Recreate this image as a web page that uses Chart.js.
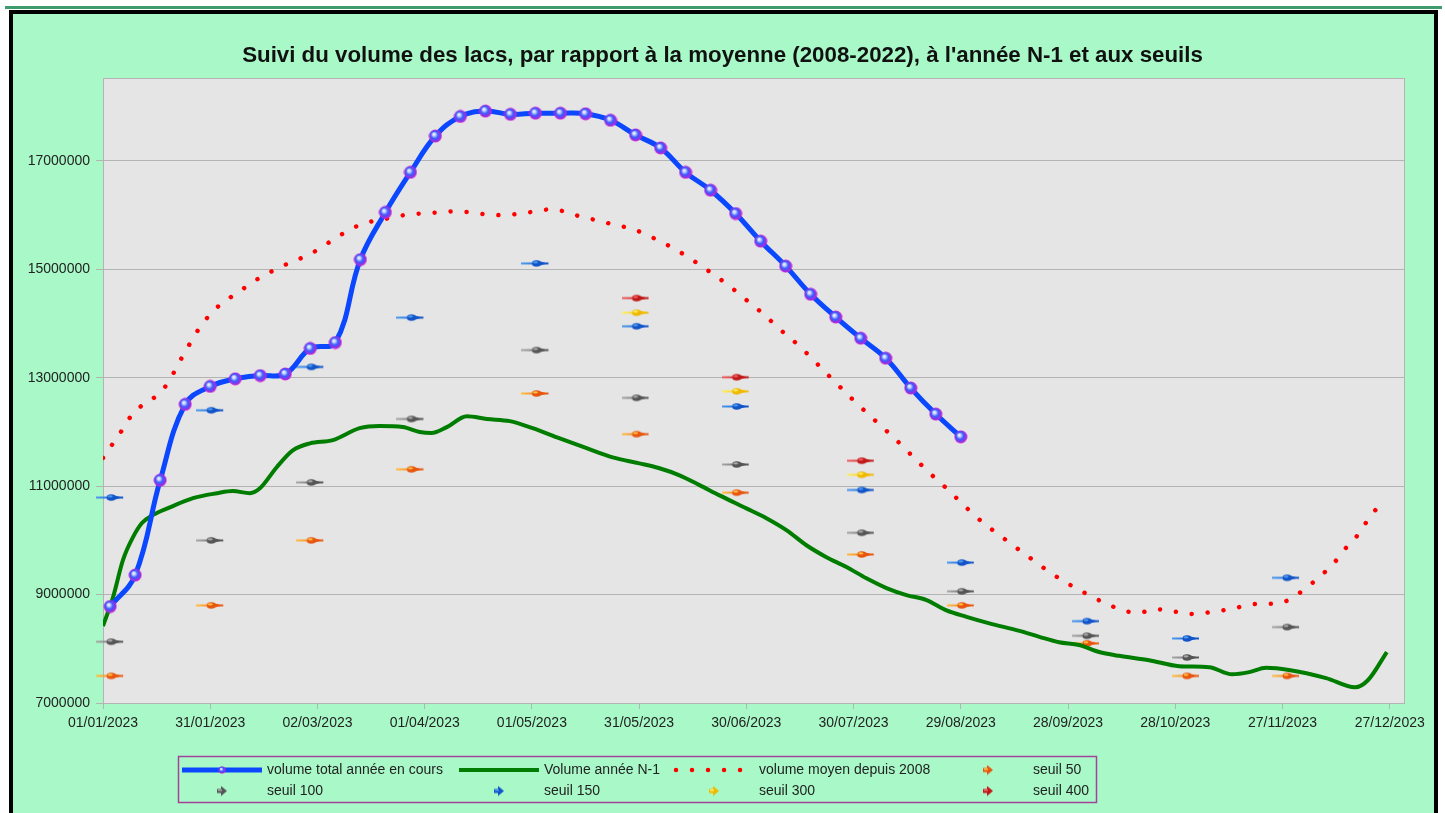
<!DOCTYPE html>
<html>
<head>
<meta charset="utf-8">
<title>Suivi du volume des lacs</title>
<script src="https://cdn.jsdelivr.net/npm/chart.js@4.4.0/dist/chart.umd.min.js"></script>
<style>
  body { margin: 0; background: #fff; width: 1445px; height: 813px; overflow: hidden; position: relative; }
  #topline { position: absolute; left: 5px; top: 6px; width: 1437px; height: 3px; background: #3f9d6d; }
  #frame { position: absolute; left: 9px; top: 10px; width: 1421px; height: 820px; border: 4px solid #000; border-bottom: none; background: #a9f9c8; }
  #chart { position: absolute; left: 0; top: 0; }
</style>
</head>
<body>
<div id="topline"></div>
<div id="frame"></div>
<canvas id="chart" width="1445" height="813"></canvas>
<script>
const TITLE = "Suivi du volume des lacs, par rapport à la moyenne (2008-2022), à l'année N-1 et aux seuils";

// axes
const xTickDays = [0, 30, 60, 90, 120, 150, 180, 210, 240, 270, 300, 330, 360];
const xTickLabels = ['01/01/2023', '31/01/2023', '02/03/2023', '01/04/2023', '01/05/2023', '31/05/2023',
  '30/06/2023', '30/07/2023', '29/08/2023', '28/09/2023', '28/10/2023', '27/11/2023', '27/12/2023'];
const yTickValues = [7000000, 9000000, 11000000, 13000000, 15000000, 17000000];

// volume total année en cours (relevés hebdo, jour de l'année)
const currentDays = [2, 9, 16, 23, 30, 37, 44, 51, 58, 65, 72, 79, 86, 93, 100, 107, 114, 121,
  128, 135, 142, 149, 156, 163, 170, 177, 184, 191, 198, 205, 212, 219, 226, 233, 240];
const currentVolumes = [8780000, 9360000, 11110000, 12510000, 12840000, 12980000, 13040000, 13070000,
  13540000, 13650000, 15180000, 16050000, 16790000, 17460000, 17820000, 17920000, 17860000, 17880000,
  17880000, 17870000, 17750000, 17480000, 17240000, 16790000, 16460000, 16030000, 15520000, 15060000,
  14540000, 14120000, 13730000, 13360000, 12810000, 12330000, 11910000];

// Volume année N-1
const previousDays = [0, 2.8, 5.6, 8.4, 10.9, 14, 18.7, 25.2, 31.9, 36.3, 41.1, 43.9, 48.6, 53.1, 57.9,
  64.3, 71.8, 77.4, 83.9, 88.6, 91.9, 96.2, 101.8, 107.4, 113.8, 120.2, 127.8, 135.3, 142.6, 150.1,
  155.7, 161.3, 166.9, 172.5, 180, 185.6, 191.2, 196.8, 202.4, 208, 213.6, 219.2, 224.8, 230.4, 236,
  241.6, 248, 256.4, 262, 267.5, 273.1, 278.7, 284.3, 292.7, 301.1, 309.5, 315.9, 320.7, 325.4, 331.8,
  342.2, 350.3, 353.9, 359.2];
const previousVolumes = [8420000, 8950000, 9640000, 10060000, 10320000, 10470000, 10610000, 10780000,
  10870000, 10910000, 10870000, 10960000, 11350000, 11660000, 11790000, 11850000, 12070000, 12110000,
  12090000, 12000000, 11980000, 12090000, 12290000, 12240000, 12200000, 12070000, 11880000, 11700000,
  11530000, 11420000, 11330000, 11200000, 11020000, 10830000, 10590000, 10410000, 10190000, 9910000,
  9690000, 9510000, 9300000, 9120000, 8990000, 8900000, 8710000, 8590000, 8470000, 8330000, 8220000,
  8120000, 8070000, 7940000, 7870000, 7790000, 7680000, 7660000, 7530000, 7570000, 7650000, 7610000,
  7460000, 7290000, 7420000, 7940000];

// volume moyen depuis 2008
const averageDays = [0, 2.8, 5.3, 7.8, 10.9, 14.8, 17.9, 20.1, 22.3, 24.5, 26.9, 29.6, 32.8, 36.5, 40.3,
  44, 48, 52.2, 56.3, 60.3, 64, 67.9, 71.9, 76.3, 80.7, 85.1, 89.5, 93.9, 98.4, 103.2, 107.6, 112.1,
  116.6, 121.1, 125.5, 130, 134.2, 138.7, 143.1, 147.3, 151.8, 155.7, 159.6, 167, 174.7, 178.3, 181.7,
  185.1, 188.4, 194.9, 203.2, 210.2, 217.7, 221.2, 224.4, 227.6, 230.8, 234.2, 237.4, 240.7, 244,
  254.6, 258.3, 262, 265.6, 269.5, 273.3, 277.3, 281.5, 285.7, 290.1, 294.4, 299, 303.5, 307.8, 312.3,
  316.7, 321.2, 325.7, 330.2, 334.1, 337.9, 341.1, 344.4, 347.2, 350.6, 353.2, 355.9, 358.7];
const averageVolumes = [11520000, 11790000, 12030000, 12290000, 12490000, 12660000, 12880000, 13130000,
  13400000, 13650000, 13910000, 14140000, 14350000, 14520000, 14690000, 14850000, 14990000, 15120000,
  15230000, 15370000, 15530000, 15690000, 15820000, 15900000, 15950000, 16010000, 16030000, 16050000,
  16070000, 16050000, 16010000, 16000000, 16030000, 16070000, 16110000, 16050000, 15960000, 15900000,
  15820000, 15760000, 15650000, 15520000, 15390000, 15080000, 14720000, 14530000, 14340000, 14160000,
  13950000, 13580000, 13030000, 12570000, 12110000, 11900000, 11690000, 11480000, 11270000, 11070000,
  10870000, 10660000, 10450000, 9910000, 9730000, 9550000, 9380000, 9220000, 9080000, 8940000,
  8810000, 8700000, 8670000, 8730000, 8700000, 8640000, 8660000, 8700000, 8750000, 8820000, 8830000,
  8860000, 9000000, 9190000, 9370000, 9580000, 9820000, 10060000, 10310000, 10550000, 10780000];

// seuils
const seuilDays = [2, 30, 58, 86, 121, 149, 177, 212, 240, 275, 303, 331];
const seuil50 = [7500000, 8800000, 10000000, 11310000, 12710000, 11960000, 10880000, 9740000, 8800000, 8100000, 7500000, 7500000];
const seuil100 = [8130000, 10000000, 11070000, 12240000, 13510000, 12630000, 11400000, 10140000, 9060000, 8240000, 7840000, 8400000];
const seuil150 = [10790000, 12400000, 13200000, 14110000, 15110000, 13950000, 12470000, 10930000, 9590000, 8510000, 8190000, 9310000];
const seuilHighDays = [149, 177, 212];
const seuil300 = [14200000, 12750000, 11210000];
const seuil400 = [14470000, 13010000, 11470000];

const FONT = '"Liberation Sans", Arial, sans-serif';

function pairs(xs, ys) {
  return xs.map((x, i) => ({ x: x, y: ys[i] }));
}

function makeBall(size) {
  const c = document.createElement('canvas');
  c.width = size; c.height = size;
  const g = c.getContext('2d');
  const r = size / 2;
  const rad = g.createRadialGradient(r * 0.75, r * 0.7, 0, r, r, r);
  rad.addColorStop(0, '#ffffff');
  rad.addColorStop(0.22, '#c8d4ff');
  rad.addColorStop(0.5, '#3a5cff');
  rad.addColorStop(0.78, '#8a34e8');
  rad.addColorStop(1, '#ff1cc4');
  g.fillStyle = rad;
  g.beginPath(); g.arc(r, r, r - 0.5, 0, Math.PI * 2); g.fill();
  return c;
}

function makeArrow(light, dark) {
  const c = document.createElement('canvas');
  c.width = 28; c.height = 9;
  const g = c.getContext('2d');
  const grad = g.createLinearGradient(0, 0, 28, 0);
  grad.addColorStop(0, light);
  grad.addColorStop(1, dark);
  g.strokeStyle = grad;
  g.lineWidth = 2;
  g.beginPath(); g.moveTo(0, 4.5); g.lineTo(27, 4.5); g.stroke();
  g.fillStyle = dark;
  g.beginPath(); g.ellipse(15, 4.5, 4.5, 3.3, 0, 0, Math.PI * 2); g.fill();
  g.beginPath(); g.moveTo(17, 2); g.lineTo(26, 4.5); g.lineTo(17, 7); g.closePath(); g.fill();
  g.fillStyle = light;
  g.beginPath(); g.ellipse(14, 3.4, 2.5, 1.1, 0, 0, Math.PI * 2); g.fill();
  return c;
}

function makeIcon(light, dark) {
  const c = document.createElement('canvas');
  c.width = 10; c.height = 11;
  const g = c.getContext('2d');
  g.fillStyle = dark;
  g.fillRect(0, 3.5, 5, 4);
  g.beginPath(); g.moveTo(4, 0.5); g.lineTo(10, 5.5); g.lineTo(4, 10.5); g.closePath(); g.fill();
  g.fillStyle = light;
  g.fillRect(1, 4, 4, 1.5);
  return c;
}

const ball = makeBall(14);

function seuilSet(label, days, values, light, dark) {
  return {
    label: label,
    data: pairs(days, values),
    showLine: false,
    pointStyle: makeArrow(light, dark),
    pointRadius: 10,
    clip: false,
    legendIcon: makeIcon(light, dark)
  };
}

const plotBg = {
  id: 'plotBg',
  beforeDraw(chart) {
    const a = chart.chartArea, g = chart.ctx;
    g.save();
    g.fillStyle = '#e5e5e5';
    g.fillRect(a.left, a.top, a.right - a.left, a.bottom - a.top);
    g.restore();
  },
  beforeDatasetsDraw(chart) {
    const a = chart.chartArea, g = chart.ctx;
    g.save();
    g.strokeStyle = '#b3b3b3';
    g.lineWidth = 1;
    g.strokeRect(a.left + 0.5, a.top + 0.5, a.right - a.left, a.bottom - a.top);
    g.restore();
  }
};

// titre centré sur toute la largeur du cadre
const pageTitle = {
  id: 'pageTitle',
  afterDraw(chart) {
    const g = chart.ctx;
    g.save();
    g.font = 'bold 22.3px ' + FONT;
    g.fillStyle = '#111';
    g.textAlign = 'center';
    g.textBaseline = 'middle';
    g.fillText(TITLE, chart.width / 2, 56);
    g.restore();
  }
};

// legende en 4 colonnes dans un cadre
const legendBox = {
  id: 'legendBox',
  afterDraw(chart) {
    const g = chart.ctx;
    const cols = [182, 459, 674, 948], rows = [770, 791];
    g.save();
    g.fillStyle = '#a9f9c8';
    g.fillRect(178, 756, 918, 46);
    g.strokeStyle = '#a2439a';
    g.lineWidth = 1.5;
    g.strokeRect(178.5, 756.5, 918, 46);
    g.font = '14px ' + FONT;
    g.textBaseline = 'middle';
    chart.data.datasets.forEach(function(ds, i) {
      const x = cols[i % 4], y = rows[Math.floor(i / 4)];
      if (ds.legendIcon) {
        g.drawImage(ds.legendIcon, x + 40 - 5, y - 5.5);
      } else {
        g.save();
        g.strokeStyle = ds.borderColor;
        g.lineWidth = ds.borderWidth;
        g.lineCap = ds.borderCapStyle || 'butt';
        g.setLineDash(ds.borderDash || []);
        g.beginPath();
        g.moveTo(ds.borderDash ? x + 2 : x, y);
        g.lineTo(x + (ds.borderDash ? 72 : 80), y);
        g.stroke();
        g.restore();
        if (ds.pointStyle) g.drawImage(ball, x + 36, y - 4, 8, 8);
      }
      g.fillStyle = '#222';
      g.fillText(ds.label, x + 85, y);
    });
    g.restore();
  }
};

const data = {
  datasets: [
    {
      label: 'volume total année en cours',
      data: pairs(currentDays, currentVolumes),
      borderColor: '#0a47ff',
      borderWidth: 5,
      tension: 0.4,
      pointStyle: ball,
      pointRadius: 7
    },
    {
      label: 'Volume année N-1',
      data: pairs(previousDays, previousVolumes),
      borderColor: '#007d00',
      borderWidth: 4,
      cubicInterpolationMode: 'monotone',
      pointRadius: 0
    },
    {
      label: 'volume moyen depuis 2008',
      data: pairs(averageDays, averageVolumes),
      borderColor: '#ff0000',
      borderWidth: 4.5,
      borderCapStyle: 'round',
      borderDash: [0.01, 16],
      cubicInterpolationMode: 'monotone',
      pointRadius: 0
    },
    seuilSet('seuil 50', seuilDays, seuil50, '#ffc040', '#e8550f'),
    seuilSet('seuil 100', seuilDays, seuil100, '#a8a8a8', '#555555'),
    seuilSet('seuil 150', seuilDays, seuil150, '#4a9af0', '#1254c8'),
    seuilSet('seuil 300', seuilHighDays, seuil300, '#fff060', '#f0b800'),
    seuilSet('seuil 400', seuilHighDays, seuil400, '#f06060', '#c01818')
  ]
};

const config = {
  type: 'line',
  data: data,
  options: {
    responsive: false,
    animation: false,
    devicePixelRatio: 1,
    layout: { padding: { left: 0, right: 41, top: 78, bottom: 0 } },
    plugins: {
      legend: { display: false },
      tooltip: { enabled: false },
      title: { display: false }
    },
    scales: {
      x: {
        type: 'linear',
        min: 0,
        max: 364,
        afterBuildTicks: function(scale) { scale.ticks = xTickDays.map(v => ({ value: v })); },
        afterFit: function(scale) { scale.height = 110; },
        ticks: {
          callback: function(v) { return xTickLabels[xTickDays.indexOf(v)]; },
          autoSkip: false,
          maxRotation: 0,
          padding: 6,
          color: '#222',
          font: { family: FONT, size: 14 }
        },
        grid: { drawOnChartArea: false, color: '#b3b3b3', tickLength: 6 },
        border: { color: '#b3b3b3' }
      },
      y: {
        min: 7000000,
        max: 18530000,
        afterBuildTicks: function(scale) { scale.ticks = yTickValues.map(v => ({ value: v })); },
        afterFit: function(scale) { scale.width = 103; },
        ticks: {
          callback: function(v) { return String(v); },
          padding: 6,
          color: '#222',
          font: { family: FONT, size: 14 }
        },
        grid: { color: '#b3b3b3', tickLength: 7 },
        border: { color: '#b3b3b3' }
      }
    }
  },
  plugins: [plotBg, pageTitle, legendBox]
};

new Chart(document.getElementById('chart'), config);
</script>
</body>
</html>
